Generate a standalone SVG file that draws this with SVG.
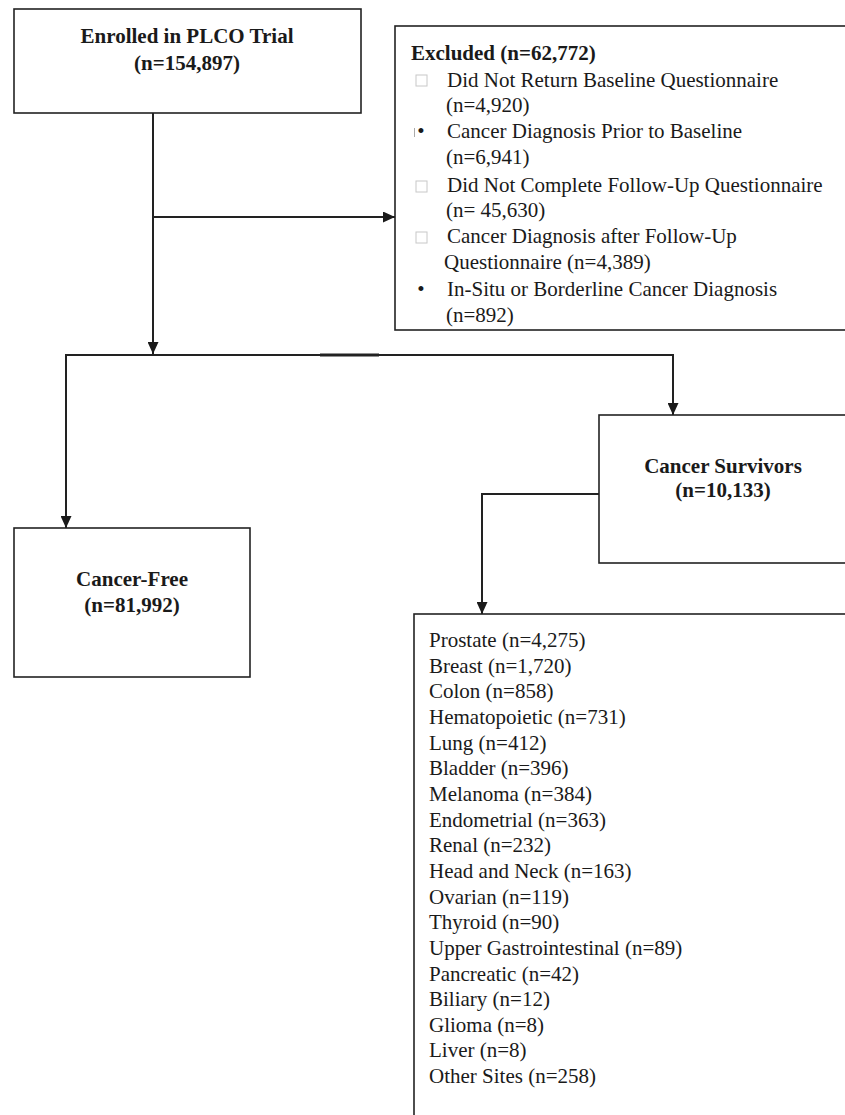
<svg xmlns="http://www.w3.org/2000/svg" width="845" height="1115" viewBox="0 0 845 1115">
<style>
  .box { fill: #fff; stroke: #222; stroke-width: 1.6; }
  .con { fill: none; stroke: #222; stroke-width: 2; }
  .t { font-family: "Liberation Serif", "Times New Roman", serif; font-size: 21px; fill: #1a1a1a; }
  .b { font-weight: bold; }
  .c { text-anchor: middle; }
  .sq { fill: #fff; stroke: #c8c8c8; stroke-width: 1; }
</style>
<defs>
  <marker id="arr" markerUnits="userSpaceOnUse" markerWidth="12" markerHeight="11" refX="12" refY="5.5" orient="auto">
    <path d="M0,0 L12,5.5 L0,11 z" fill="#1a1a1a"/>
  </marker>
</defs>
<rect width="845" height="1115" fill="#fff"/>

<g id="connectors">
  <line class="con" x1="153" y1="113" x2="153" y2="354" marker-end="url(#arr)"/>
  <line class="con" x1="153" y1="217" x2="395" y2="217" marker-end="url(#arr)"/>
  <line class="con" x1="66" y1="355" x2="673" y2="355"/>
  <line x1="320" y1="355" x2="379" y2="355" stroke="#222" stroke-width="3"/>
  <line class="con" x1="66" y1="354" x2="66" y2="528" marker-end="url(#arr)"/>
  <line class="con" x1="673" y1="354" x2="673" y2="415" marker-end="url(#arr)"/>
  <polyline class="con" points="599,494 482,494 482,614" marker-end="url(#arr)"/>
</g>

<g id="enrolled">
  <rect class="box" x="14" y="9" width="347" height="104"/>
  <text class="t b c" x="187" y="43">Enrolled in PLCO Trial</text>
  <text class="t b c" x="187" y="70">(n=154,897)</text>
</g>

<g id="excluded">
  <rect class="box" x="395" y="26" width="470" height="304"/>
  <text class="t b" x="411" y="60">Excluded (n=62,772)</text>
  <rect class="sq" x="416" y="75" width="11" height="11"/>
  <text class="t" x="447" y="87">Did Not Return Baseline Questionnaire</text>
  <text class="t" x="446" y="112">(n=4,920)</text>
  <line x1="414.5" y1="128" x2="414.5" y2="137" stroke="#aaa" stroke-width="1"/>
  <text class="t c" x="421" y="138">•</text>
  <text class="t" x="447" y="138">Cancer Diagnosis Prior to Baseline</text>
  <text class="t" x="446" y="164">(n=6,941)</text>
  <rect class="sq" x="416" y="181" width="11" height="11"/>
  <text class="t" x="447" y="192">Did Not Complete Follow-Up Questionnaire</text>
  <text class="t" x="446" y="217">(n= 45,630)</text>
  <rect class="sq" x="416" y="232" width="11" height="11"/>
  <text class="t" x="447" y="243">Cancer Diagnosis after Follow-Up</text>
  <text class="t" x="444" y="269">Questionnaire (n=4,389)</text>
  <text class="t c" x="421" y="296">•</text>
  <text class="t" x="447" y="296">In-Situ or Borderline Cancer Diagnosis</text>
  <text class="t" x="446" y="322">(n=892)</text>
</g>

<g id="cancer-free">
  <rect class="box" x="14" y="528" width="236" height="149"/>
  <text class="t b c" x="132" y="586">Cancer-Free</text>
  <text class="t b c" x="132" y="612">(n=81,992)</text>
</g>

<g id="survivors">
  <rect class="box" x="599" y="415" width="270" height="148"/>
  <text class="t b c" x="723" y="473">Cancer Survivors</text>
  <text class="t b c" x="723" y="497">(n=10,133)</text>
</g>

<g id="sites">
  <rect class="box" x="414" y="614" width="450" height="520"/>
  <text class="t" x="429" y="647">Prostate (n=4,275)</text>
  <text class="t" x="429" y="672.7">Breast (n=1,720)</text>
  <text class="t" x="429" y="698.3">Colon (n=858)</text>
  <text class="t" x="429" y="724">Hematopoietic (n=731)</text>
  <text class="t" x="429" y="749.6">Lung (n=412)</text>
  <text class="t" x="429" y="775.3">Bladder (n=396)</text>
  <text class="t" x="429" y="800.9">Melanoma (n=384)</text>
  <text class="t" x="429" y="826.6">Endometrial (n=363)</text>
  <text class="t" x="429" y="852.2">Renal (n=232)</text>
  <text class="t" x="429" y="877.9">Head and Neck (n=163)</text>
  <text class="t" x="429" y="903.5">Ovarian (n=119)</text>
  <text class="t" x="429" y="929.2">Thyroid (n=90)</text>
  <text class="t" x="429" y="954.8">Upper Gastrointestinal (n=89)</text>
  <text class="t" x="429" y="980.5">Pancreatic (n=42)</text>
  <text class="t" x="429" y="1006.1">Biliary (n=12)</text>
  <text class="t" x="429" y="1031.8">Glioma (n=8)</text>
  <text class="t" x="429" y="1057.4">Liver (n=8)</text>
  <text class="t" x="429" y="1083">Other Sites (n=258)</text>
</g>
</svg>
